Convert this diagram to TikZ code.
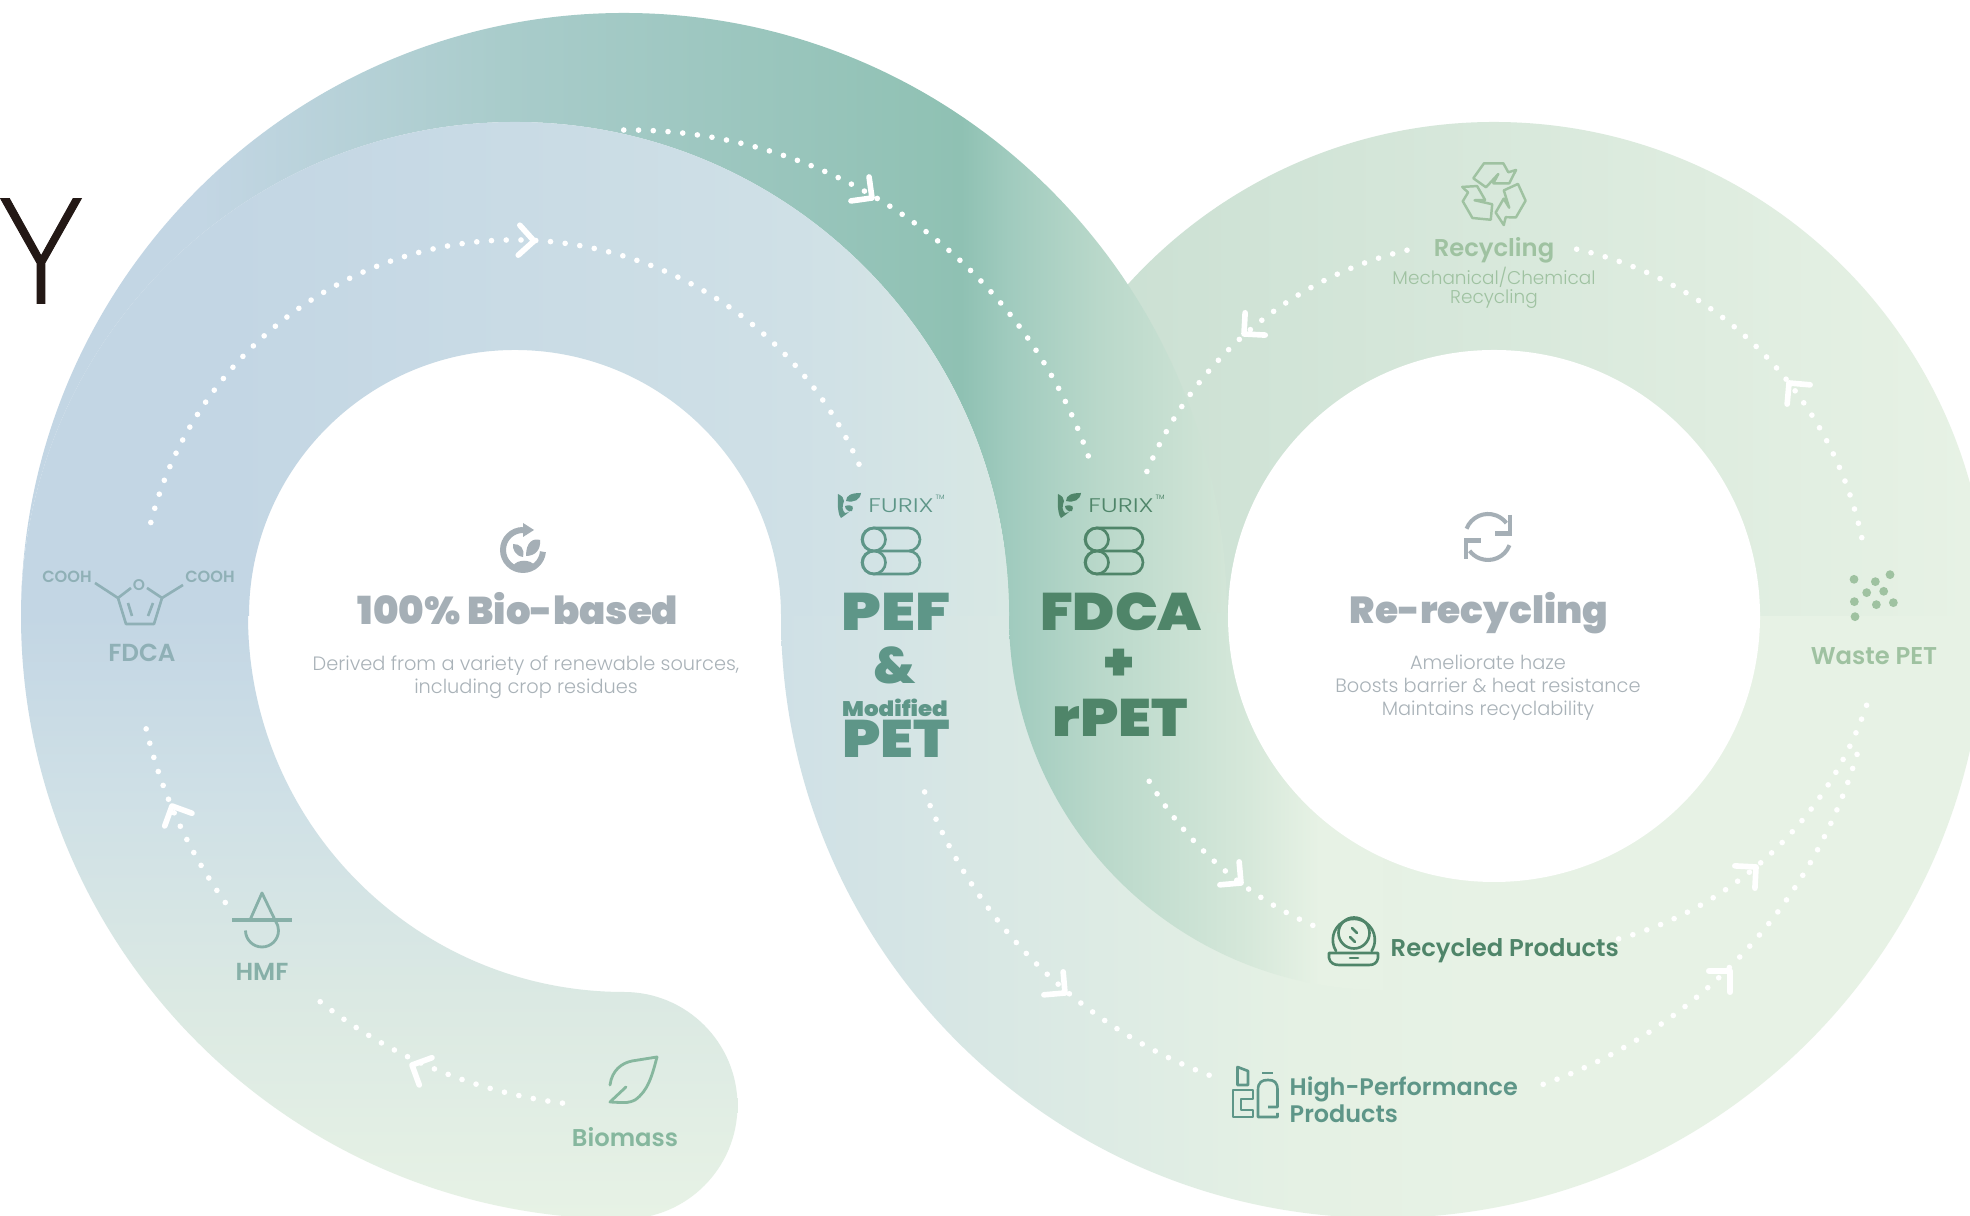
\documentclass[tikz,border=0pt]{standalone}
\usepackage{fontspec}
\setmainfont{Poppins}
\newfontfamily\heavyfont{Poppins Black}
\newfontfamily\medfont{Poppins SemiBold}
\newfontfamily\lightfont{Poppins Light}
\newfontfamily\thinfont[AutoFakeBold=0.6]{Open Sans Light}
\newcommand\fz[1]{\fontsize{#1}{#1}\selectfont}
\newcommand\fzl[2]{\fontsize{#1}{#2}\selectfont}

\definecolor{gTitle}{HTML}{A5AFB6}
\definecolor{gBody}{HTML}{A9B2B8}
\definecolor{cBlue}{HTML}{8FB0B6}
\definecolor{cHmf}{HTML}{87B0A8}
\definecolor{cLeaf}{HTML}{86B79E}
\definecolor{cRec}{HTML}{9FC2A1}
\definecolor{cDark}{HTML}{4F8569}
\definecolor{cTeal}{HTML}{5E9688}
\definecolor{cInk}{HTML}{231815}

% stops: position = 25 + x*50/1970
\definecolor{s1}{HTML}{C3D6E4}\definecolor{s2}{HTML}{CFE0E6}\definecolor{s3}{HTML}{D8E8E4}
\definecolor{s4}{HTML}{A9CCCB}\definecolor{s5}{HTML}{8FC1B3}\definecolor{s6}{HTML}{A0CBBE}
\definecolor{s7}{HTML}{B9D8CA}\definecolor{s8}{HTML}{D2E5D7}\definecolor{s9}{HTML}{E7F2E5}
\definecolor{s10}{HTML}{CBE0D3}\definecolor{s11}{HTML}{D9E8E4}\definecolor{s12}{HTML}{E5F1E4}
\definecolor{s13}{HTML}{D6E8DA}\definecolor{s14}{HTML}{DBE9E3}
\pgfdeclarehorizontalshading{bandtop}{100bp}{color(0bp)=(s1);color(30.8bp)=(s1);color(45.3bp)=(s2);color(50.6bp)=(s3);color(100bp)=(s3)}
\pgfdeclarehorizontalshading{crescent}{100bp}{color(0bp)=(s1);color(30.1bp)=(s1);color(37.7bp)=(s4);color(49.4bp)=(s5);color(50.6bp)=(s6);color(52.9bp)=(s7);color(56.1bp)=(s8);color(100bp)=(s8)}
\pgfdeclarehorizontalshading{ringtop}{100bp}{color(0bp)=(s10);color(52.9bp)=(s10);color(75bp)=(s9);color(100bp)=(s9)}
\pgfdeclarehorizontalshading{bandlow}{100bp}{color(0bp)=(s2);color(44.8bp)=(s2);color(50.4bp)=(s11);color(58bp)=(s12);color(63.1bp)=(s9);color(100bp)=(s9)}
\pgfdeclarehorizontalshading{darklow}{100bp}{color(0bp)=(s6);color(50.6bp)=(s6);color(52.9bp)=(s7);color(56.7bp)=(s13);color(58.5bp)=(s9);color(100bp)=(s9)}
\pgfdeclareverticalshading{spiralow}{100bp}{color(0bp)=(s9);color(25bp)=(s9);color(33.9bp)=(s14);color(42.1bp)=(s2);color(49.7bp)=(s1);color(100bp)=(s1)}

\newcommand\bandfill[2]{\begin{scope}\clip #2; \shade[shading=#1] (0,0) rectangle (1970,1216);\end{scope}}

\begin{document}
\begin{tikzpicture}[x=0.01cm,y=0.01cm,
dotline/.style={white,line width=1.6pt,line cap=round,dash pattern=on 0pt off 4.2pt},
chevron/.pic={%
\draw[white,line width=1.6pt,line cap=round,line join=round] (-15,15) -- (0,0) -- (-15,-15);},
pillpair/.pic={%
\draw[line width=.75pt,rounded corners=3.3pt] (-29,0) rectangle (29,23) (-29,-23) rectangle (29,0);
\draw[line width=.75pt] (-17,11.5) circle (11.5) (-17,-11.5) circle (11.5);},
furixlogo/.pic={%
\fill (-11,11) .. controls (-7,9) and (-5,7) .. (-5,4) .. controls (-7,-2) and (-7,-5) .. (-4,-8) .. controls (-2,-8) and (0,-7) .. (1,-6) .. controls (-2,-9) and (-5,-11) .. (-8,-13) .. controls (-10,-11) and (-12,-4) .. cycle;
\fill (-3,4) .. controls (-3,10) and (3,12) .. (12,12) .. controls (11,5) and (5,2) .. cycle;
\fill (-4,-1) .. controls (-4,-5) and (0,-7) .. (3,-6) .. controls (5,-2) and (4,1) .. cycle;
\node[font=\lightfont\fz{5.6}] at (52,-1) {\scalebox{1.3}[1]{FURIX}};
\node[font=\fz{1.8}] at (91,8) {TM};},
recyarrow/.pic={%
\draw[line width=.7pt,line join=round] (-20.7,15.7) -- (-10,30.7) -- (9.3,30.7) -- (14.3,21.7) -- (22,24) -- (15.3,10.7) -- (-0.7,10.7) -- (4.3,20) -- (-8,6.7) -- cycle;}]

 \path[use as bounding box] (0,0) rectangle (1970,1216);
 \clip (0,0) rectangle (1970,1216);
 \coordinate (cL) at (515,600);
 \coordinate (cP) at (624,600);
 \coordinate (cR) at (1494,600);
 \coordinate (cB) at (1383,600);
 \fill[white] (0,0) rectangle (1970,1216);
 %
 \bandfill{bandlow}{(781,603) -- (781,600) arc[start angle=180,end angle=360,radius=602] -- (1985,603) -- cycle}
 \bandfill{ringtop}{(1000,600) arc[start angle=180,end angle=0,radius=494] -- cycle}
 \bandfill{crescent}{(21,600) arc[start angle=180,end angle=0,radius=603] -- (1009,600) arc[start angle=0,end angle=180,radius=494] -- cycle}
 \bandfill{darklow}{(1009,603) -- (1009,600) arc[start angle=180,end angle=270,radius=374] -- (1383,603) -- cycle}
 \bandfill{spiralow}{(21,603) -- (21,600) arc[start angle=180,end angle=270,radius=603] arc[start angle=-90,end angle=90,radius=113.5] arc[start angle=270,end angle=180,radius=376] -- (248,603) -- cycle}
 \bandfill{bandtop}{(21,600) arc[start angle=180,end angle=0,radius=494] -- (781,600) arc[start angle=0,end angle=180,radius=266] -- cycle}
 \fill[white] (cR) circle (266);
 %
 \foreach\cx/\cy/\r/\a/\b in {624/600/491/262.8/231,624/600/491/215.7/192,515/600/376/165.6/23.6,628/598/488/90.5/17.9,1494/600/376/157.4/103,1494/600/376/77.3/11,1522/628/364/-18.8/-74.9,1376/605/502/-16.6/-71.5,1455/617/356/210.8/247.8,1383/600/491/201/250}
 {\draw[dotline] (\cx,\cy) ++(\a:\r) arc[start angle=\a,end angle=\b,radius=\r];}
 \foreach\X/\Y/\A in {534/975/-3,872/1018/-37,1244/882/222,1789/833/130,1756/349/42,1730/245/45,1241/333/-40,1065/223/-40,412/151/155,172/410/115}
 {\pic[rotate=\A] at (\X,\Y) {chevron};}
 %
 \node (cutY) at (41,965) [text=cInk,font=\thinfont\bfseries\fz{41.8}] {\scalebox{1.04}[1]{Y}};
 %
 % centre of the left loop
 \begin{scope}[shift={(523,666)},gTitle]
  \draw[line width=1.7pt] (0,20) arc[start angle=90,end angle=355,radius=20];
  \fill (0,27) -- (11,20) -- (0,13) -- cycle;
  \fill (3,-6) .. controls (3,8) and (10,12) .. (17,10) .. controls (18,0) and (12,-6) .. cycle;
  \fill (0,-7) .. controls (-8,-6) and (-11,2) .. (-10,6) .. controls (-3,6) and (2,2) .. cycle;
  \fill (-10,-16) .. controls (-6,-9) and (8,-9) .. (12,-16) .. controls (5,-20) and (-4,-20) .. cycle;
 \end{scope}
 \node (bioTitle) at (518,607) [text=gTitle,font=\heavyfont\fz{11}] {100\% Bio-based};
 \node (bioBody) at (526,539) [text=gBody,align=center,font=\lightfont\fzl{5.5}{6.54}] {Derived from a variety of renewable sources,\\including crop residues};
 %
 % centre of the right loop
 \begin{scope}[shift={(1488,679)},gTitle]
  \foreach\R in {0,180}
  {\begin{scope}[rotate=\R]
    \draw[line width=1.15pt] (159:23) arc[start angle=159,end angle=37,radius=23];
    \draw[line width=1.15pt] (22,22) -- (22,3.5) -- (7,3.5);
   \end{scope}}
 \end{scope}
 \node (rerecTitle) at (1479,603) [text=gTitle,font=\heavyfont\fz{10.7}] {Re-recycling};
 \node (rerecBody) at (1488,528) [text=gBody,align=center,font=\lightfont\fzl{5.5}{6.54}] {Ameliorate haze\\Boosts barrier \& heat resistance\\Maintains recyclability};
 %
 % the two middle columns
 \pic[cTeal,text=cTeal] at (849,711) {furixlogo};
 \pic[cDark,text=cDark] at (1069,711) {furixlogo};
 \pic[cTeal] at (891,665) {pillpair};
 \pic[cDark] at (1114,665) {pillpair};
 \node (pefText) at (896,604) [text=cTeal,font=\heavyfont\fz{15}] {\scalebox{1.16}[1]{PEF}};
 \node (ampText) at (895,551) [text=cTeal,font=\heavyfont\fz{14.5}] {\&};
 \node (modText) at (895,508) [text=cTeal,font=\heavyfont\fz{6}] {\scalebox{1.09}[1]{Modified}};
 \node (petText) at (896,477) [text=cTeal,font=\heavyfont\fz{15}] {\scalebox{1.12}[1]{PET}};
 \node (fdcaText) at (1121,604) [text=cDark,font=\heavyfont\fz{15}] {\scalebox{1.08}[1]{FDCA}};
 \node (plusText) at (1119,551) [text=cDark,font=\heavyfont\fz{15}] {+};
 \node (rpetText) at (1120,498) [text=cDark,font=\heavyfont\fz{15}] {\scalebox{1.12}[1]{rPET}};
 %
 % left band
 \begin{scope}[cBlue,line width=.75pt]
  \draw[line join=round] (131,628) -- (118,618) -- (126,592) -- (154,592) -- (162,618) -- (147,628);
  \draw (118,618) -- (95,633) (162,618) -- (183,631) (128,613) -- (132,600) (153,613) -- (148,600);
 \end{scope}
 \node (ringO) at (139,631) [inner sep=0pt,text=cBlue,font=\medfont\fz{4.4}] {O};
 \node (cooL) at (67,639) [text=cBlue,font=\medfont\fz{4.6}] {COOH};
 \node (cooR) at (210,639) [text=cBlue,font=\medfont\fz{4.6}] {COOH};
 \node (fdcaLab) at (142,563) [text=cBlue,font=\medfont\fz{7}] {FDCA};
 \draw[cHmf,line width=.9pt] (232,296) -- (292,296);
 \draw[cHmf,line width=.8pt,line join=round] (250,296) -- (262,323) -- (275,296);
 \draw[cHmf,line width=.8pt] (245.5,285.5) arc[start angle=180,end angle=395,radius=16.5];
 \node (hmfLab) at (262,244) [text=cHmf,font=\medfont\fz{7}] {HMF};
 \draw[cLeaf,line width=.8pt,line join=round,line cap=round] (610,131) .. controls (612,146) and (622,153) .. (632,155) -- (657,159) .. controls (652,140) and (648,125) .. (635,116) .. controls (628,113) .. (610,114) -- (626,129);
 \node (bioLab) at (625,79) [text=cLeaf,font=\medfont\fz{6.9}] {Biomass};
 %
 % right band
 \foreach\R in {0,120,240}
 {\pic[cRec,rotate=\R] at (1494,1022) {recyarrow};}
 \node (recLab) at (1494,966) [text=cRec,font=\medfont\fz{6.9}] {Recycling};
 \node (recBody) at (1494,928) [text=cRec,align=center,font=\lightfont\fzl{5.25}{5.36}] {Mechanical/Chemical\\Recycling};
 \foreach\X/\Y in {222/118,330/104,286/125,260/158,311/154,223/185,340/188,289/194,225/230}
 {\fill[cRec] ({1780+\X/3},{676-\Y/3}) circle (4.4);}
 \node (wasteLab) at (1874,560) [text=cRec,font=\medfont\fz{6.9}] {Waste PET};
 %
 \begin{scope}[cDark,line width=.75pt,line cap=round,line join=round]
  \draw (1336,265) arc[start angle=212,end angle=-32,radius=21];
  \draw (1354,283) circle (15.5);
  \draw (1329,263) -- (1378,263) -- (1378,258) .. controls (1377,253) and (1374,251) .. (1369,251) -- (1339,251) .. controls (1334,251) and (1330,253) .. (1329,258) -- cycle;
  \draw (1350,258) -- (1358,258);
  \draw (1352,288) -- (1357,283) (1350,279) -- (1355,274);
 \end{scope}
 \node (recProd) at (1390,265) [anchor=west,inner sep=0pt,text=cDark,font=\medfont\fz{6.9}] {Recycled Products};
 \begin{scope}[cTeal,line width=.75pt,line join=round]
  \draw (1233,99) -- (1233,126) -- (1253,126) -- (1253,117) -- (1241,117) -- (1241,106) -- (1253,106) -- (1253,99) -- cycle;
  \draw (1237.5,131) -- (1237.5,149) -- (1248,145) -- (1248,131) -- cycle;
  \draw (1268,109) -- (1277.5,109) -- (1277.5,126) .. controls (1277.5,134) and (1274,136) .. (1268,136) .. controls (1262,136) and (1258,134) .. (1258,126) -- (1258,99) -- (1277.5,99) -- (1277.5,103);
  \draw (1262,143) -- (1273,143);
 \end{scope}
 \node (hiProd) at (1289,116) [anchor=west,inner sep=0pt,align=left,text=cTeal,font=\medfont\fzl{6.8}{7.7}] {High-Performance\\Products};
 %
\end{tikzpicture}
\end{document}
